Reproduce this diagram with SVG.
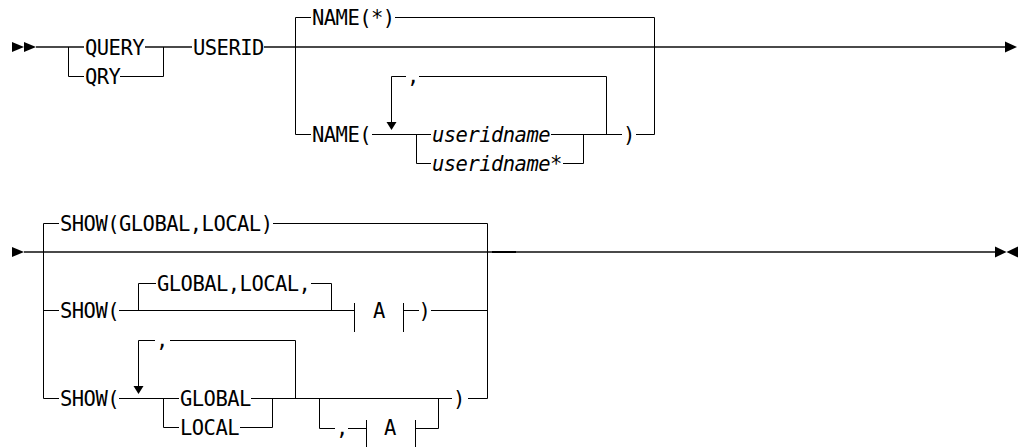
<svg xmlns="http://www.w3.org/2000/svg" width="1019" height="447" viewBox="0 0 1019 447">
<style>
.t{font-family:"DejaVu Sans Mono","Liberation Mono",monospace;font-size:20.5px;letter-spacing:-0.54px;fill:#000}
.i{font-style:italic}
.ln{stroke:#000;stroke-width:1;fill:none}
.mn{stroke:#4a4a4a;stroke-width:2;fill:none}
.ar{fill:#000;stroke:none}
</style>
<rect width="1019" height="447" fill="#fff"/>
<g id="connectors">
  <!-- row 1 main line -->
  <path class="mn" d="M36 47 H84 M145 47 H192 M264 47 H1006"/>
  <polygon class="ar" points="12,42 24,47 12,52"/>
  <polygon class="ar" points="24,42 36,47 24,52"/>
  <polygon class="ar" points="1005,41.5 1017,47 1005,52.5"/>
  <!-- QUERY / QRY -->
  <path class="ln" d="M68.5 47 V76.5 H84 M120 76.5 H163.5 V47"/>
  <!-- NAME group -->
  <path class="ln" d="M311 17.5 H295.5 V134.5 H311 M395 17.5 H654.5 V134.5 H636"/>
  <path class="ln" d="M372 134.5 H431 M416.5 134.5 V163.5 H431 M551 134.5 H622 M563 163.5 H583.5 V134.5"/>
  <path class="ln" d="M391.5 122 V76.5 H406 M419 76.5 H606.5 V134.5"/>
  <polygon class="ar" points="386.5,122 396.5,122 391.5,130"/>
  <!-- row 2 main line -->
  <path class="mn" d="M24 252 H995"/>
  <path d="M492 252 H516" stroke="#000" stroke-width="2"/>
  <polygon class="ar" points="12,247 24,252 12,257"/>
  <polygon class="ar" points="995,246.5 1006.5,252 995,257.5"/>
  <polygon class="ar" points="1018,246.5 1006.5,252 1018,257.5"/>
  <!-- SHOW group -->
  <path class="ln" d="M59 223.5 H43.5 V398.5 H59 M43.5 310.5 H59 M273 223.5 H487.5 V398.5 H468 M431 310.5 H487.5"/>
  <!-- option 2 -->
  <path class="ln" d="M119 310.5 H354 M138.5 310.5 V283.5 H156 M311 283.5 H331.5 V310.5"/>
  <path class="ln" d="M354.5 303 V332 M403.5 303 V332 M403.5 310.5 H419"/>
  <!-- option 3 -->
  <path class="ln" d="M119 398.5 H179 M163.5 398.5 V427.5 H179 M251 398.5 H452 M240 427.5 H272.5 V398.5"/>
  <path class="ln" d="M138.5 386 V340.5 H155 M170 340.5 H295.5 V398.5"/>
  <polygon class="ar" points="133.5,386 143.5,386 138.5,394"/>
  <path class="ln" d="M319.5 398.5 V428.5 H335 M348 428.5 H366 M366.5 420 V449 M415.5 420 V449 M415.5 428.5 H438.5 V398.5"/>
</g>
<g id="n-query"><text class="t" x="85" y="54.5">QUERY</text></g>
<g id="n-qry"><text class="t" x="85" y="84">QRY</text></g>
<g id="n-userid"><text class="t" x="193" y="54.5">USERID</text></g>
<g id="n-name-star"><text class="t" x="312" y="25">NAME(*)</text></g>
<g id="n-name-open"><text class="t" x="312" y="142">NAME(</text></g>
<g id="n-comma1"><text class="t" x="407" y="83">,</text></g>
<g id="n-useridname"><text class="t i" x="432" y="142">useridname</text></g>
<g id="n-useridname-star"><text class="t i" x="432" y="171">useridname*</text></g>
<g id="n-close1"><text class="t" x="623" y="142">)</text></g>
<g id="n-show-default"><text class="t" x="60" y="231">SHOW(GLOBAL,LOCAL)</text></g>
<g id="n-show2"><text class="t" x="60" y="318">SHOW(</text></g>
<g id="n-globallocal"><text class="t" x="157" y="291">GLOBAL,LOCAL,</text></g>
<g id="n-a1"><text class="t" x="379" y="318" text-anchor="middle">A</text></g>
<g id="n-close2"><text class="t" x="418.5" y="318">)</text></g>
<g id="n-show3"><text class="t" x="60" y="406">SHOW(</text></g>
<g id="n-comma2"><text class="t" x="156" y="347">,</text></g>
<g id="n-global"><text class="t" x="180" y="406">GLOBAL</text></g>
<g id="n-local"><text class="t" x="180" y="435">LOCAL</text></g>
<g id="n-comma3"><text class="t" x="336" y="435">,</text></g>
<g id="n-a2"><text class="t" x="390" y="435" text-anchor="middle">A</text></g>
<g id="n-close3"><text class="t" x="453" y="406">)</text></g>
</svg>
